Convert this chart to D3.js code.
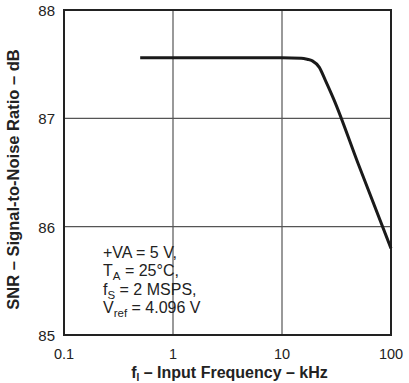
<!DOCTYPE html>
<html><head><meta charset="utf-8">
<script src="https://cdn.jsdelivr.net/npm/d3@7"></script>
<style>body{margin:0;background:#fff}svg{display:block}text{font-family:"Liberation Sans",Arial,sans-serif;fill:#222}</style>
</head><body><svg id="c" width="409" height="383"></svg>
<script>
const freqKHz = [0.5, 1, 2, 5, 10, 15, 17, 19, 22, 25, 30, 50, 100];
const snrDB   = [87.56, 87.56, 87.56, 87.56, 87.56, 87.555, 87.545, 87.53, 87.47, 87.35, 87.17, 86.58, 85.80];
const xTicks = [0.1, 1, 10, 100];
const xTickLabels = ["0.1", "1", "10", "100"];
const yTicks = [85, 86, 87, 88];
const notes = [
  [["+VA = 5 V,", null]],
  [["T", null], ["A", "sub"], [" = 25°C,", null]],
  [["f", null], ["S", "sub"], [" = 2 MSPS,", null]],
  [["V", null], ["ref", "sub"], [" = 4.096 V", null]]
];

const svg = d3.select("#c");
const L = 64, R = 391, T = 10, B = 335;
const x = d3.scaleLog().domain([0.1, 100]).range([L, R]);
const y = d3.scaleLinear().domain([85, 88]).range([B, T]);

// grid
svg.append("g").selectAll("line").data(xTicks.slice(1, -1)).join("line")
  .attr("x1", d => x(d)).attr("x2", d => x(d)).attr("y1", T).attr("y2", B)
  .attr("stroke", "#555").attr("stroke-width", 1.2);
svg.append("g").selectAll("line").data(yTicks.slice(1, -1)).join("line")
  .attr("y1", d => y(d)).attr("y2", d => y(d)).attr("x1", L).attr("x2", R)
  .attr("stroke", "#555").attr("stroke-width", 1.2);

// frame
svg.append("rect").attr("x", L).attr("y", T).attr("width", R - L).attr("height", B - T)
  .attr("fill", "none").attr("stroke", "#222").attr("stroke-width", 2);

// tick labels
svg.append("g").selectAll("text").data(xTicks).join("text")
  .attr("x", d => x(d)).attr("y", 359).attr("text-anchor", "middle")
  .attr("font-size", 14.5).text((d, i) => xTickLabels[i]);
svg.append("g").selectAll("text").data(yTicks).join("text")
  .attr("x", L - 9).attr("y", d => y(d) + 6).attr("text-anchor", "end")
  .attr("font-size", 15).text(d => d);

// axis titles
const xt = svg.append("text").attr("x", 229.5).attr("y", 378).attr("text-anchor", "middle")
  .attr("font-size", 16).attr("font-weight", "bold");
xt.append("tspan").text("f");
xt.append("tspan").attr("font-size", 10).attr("dy", 3).text("I");
xt.append("tspan").attr("dy", -3).text(" – Input Frequency – kHz");

svg.append("text").attr("transform", `translate(19,179.5) rotate(-90)`)
  .attr("text-anchor", "middle").attr("font-size", 16.5).attr("font-weight", "bold")
  .text("SNR – Signal-to-Noise Ratio – dB");

// curve
const pts = freqKHz.map((f, i) => [f, snrDB[i]]);
svg.append("path").datum(pts)
  .attr("d", d3.line().x(d => x(d[0])).y(d => y(d[1])).curve(d3.curveMonotoneX))
  .attr("fill", "none").attr("stroke", "#1a1a1a").attr("stroke-width", 3);

// notes
const ng = svg.append("g");
notes.forEach((line, i) => {
  const t = ng.append("text").attr("x", 103).attr("y", 257.5 + i * 18.5).attr("font-size", 16);
  let shifted = false;
  line.forEach(([s, k]) => {
    const ts = t.append("tspan").text(s);
    if (k === "sub") { ts.attr("font-size", 11.5).attr("dy", 4); shifted = true; }
    else if (shifted) { ts.attr("dy", -4); shifted = false; }
  });
});
</script></body></html>
